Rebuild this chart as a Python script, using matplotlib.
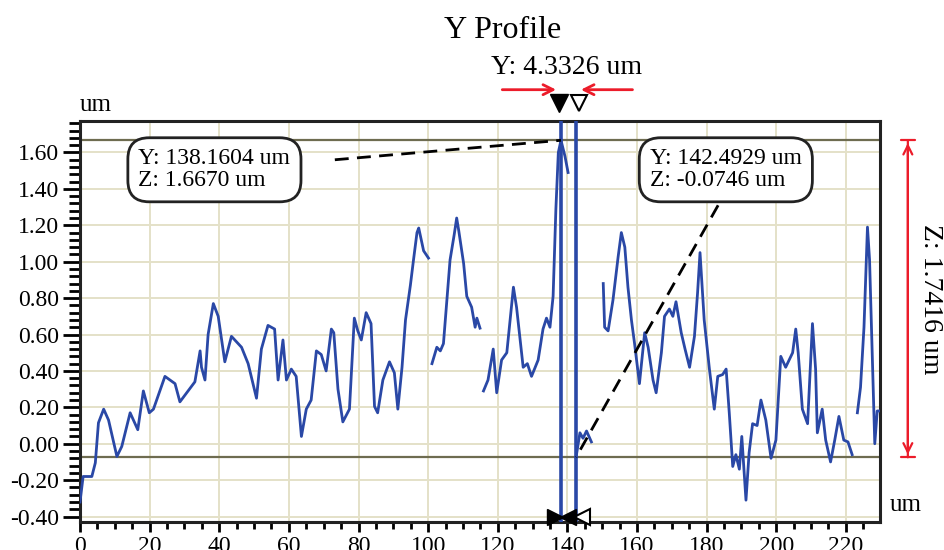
#!/usr/bin/env python3
"""
Y Profile surface scan with two cursors (recreated).
"""

import numpy as np
import matplotlib
matplotlib.use("Agg")
import matplotlib.pyplot as plt
from matplotlib.ticker import MultipleLocator

plt.rcParams['font.family'] = ['Liberation Serif', 'DejaVu Serif']

# profile segments (Y position in um, Z height in um); NaN marks gaps
seg1_y = [0, 0.9, 3.4, 4.4, 5.3, 6.8, 8.2, 10.6, 12, 14.4, 16.6, 18.2, 19.9, 21.1, 24.4, 27.3,
          28.7, 33, 34.5, 34.9, 35.9, 36.8, 38.3, 39.7, 41.6, 43.5, 46.4, 48.3, 50.7, 52.1, 54,
          55.9, 56.9, 58.3, 59.3, 60.7, 62.1, 63.6, 65, 66.4, 67.9, 69.3, 70.7, 72.2, 72.9, 74.1,
          75.5, 77.4, 78.8, 79.8, 80.8, 82.2, 83.6, 84.6, 85.5, 87, 88.9, 90.3, 91.3, 92.5, 93.5,
          94.9, 95.8, 96.8, 97.3, 98.7, 100.1]
seg1_z = [-0.32, -0.18, -0.18, -0.105, 0.115, 0.19, 0.13, -0.07, -0.015, 0.17, 0.077, 0.29, 0.17,
          0.19, 0.37, 0.33, 0.23, 0.34, 0.51, 0.42, 0.35, 0.60, 0.77, 0.70, 0.45, 0.59, 0.53, 0.44,
          0.25, 0.52, 0.65, 0.63, 0.35, 0.57, 0.35, 0.41, 0.37, 0.04, 0.19, 0.24, 0.51, 0.49, 0.40,
          0.63, 0.61, 0.30, 0.12, 0.19, 0.69, 0.62, 0.57, 0.72, 0.66, 0.205, 0.17, 0.35, 0.45,
          0.39, 0.19, 0.42, 0.68, 0.87, 1.01, 1.16, 1.185, 1.06, 1.02]

seg2_y = [101.1, 102.5, 103.5, 104.4, 105.4, 106.3, 107.5, 108.2, 108.8, 110.2, 111.1, 112.5,
          113.5, 114, 114.9]
seg2_z = [0.44, 0.53, 0.51, 0.55, 0.79, 1.01, 1.15, 1.24, 1.17, 0.99, 0.81, 0.75, 0.64, 0.69, 0.635]

seg3_y = [115.9, 117.2, 118.7, 119.7, 121.1, 122.6, 124.5, 125.4, 127.3, 128.5, 129.7, 131.6,
          133, 134, 135, 135.9, 136.7, 137.4, 138.16, 139.3, 140.2]
seg3_z = [0.29, 0.35, 0.52, 0.28, 0.46, 0.50, 0.86, 0.75, 0.42, 0.44, 0.37, 0.46, 0.63, 0.69,
          0.64, 0.81, 1.29, 1.60, 1.667, 1.58, 1.49]

seg4_y = [142.49, 143.6, 144.5, 145.5, 146.9]
seg4_z = [-0.0746, 0.06, 0.03, 0.07, 0.01]

seg5_y = [150.3, 150.7, 151.7, 153.1, 154.6, 155.5, 156.5, 157.4, 158.4, 159.3, 160.7, 162.2,
          163.2, 164.6, 165.5, 167, 167.9, 169.3, 170.3, 171.2, 172.7, 173.8, 175.1, 176.5, 177.4,
          178.1, 179.3, 180.8, 182.2, 183.2, 184.6, 185.6, 186.5, 187.5, 188.4, 189.4, 190.1,
          191.3, 192.2, 193.2, 194.5, 195.6, 197, 198.5, 199.9, 201.3, 202.7, 204.7, 205.6, 206.3,
          207.5, 209, 210.4, 211.3, 211.8, 213.2, 214.2, 215.6, 216.8, 218, 219.4, 220.6, 221.8]
seg5_z = [0.88, 0.64, 0.62, 0.79, 1.03, 1.16, 1.08, 0.86, 0.68, 0.55, 0.33, 0.61, 0.53, 0.35,
          0.28, 0.50, 0.70, 0.74, 0.70, 0.78, 0.61, 0.52, 0.42, 0.59, 0.83, 1.05, 0.68, 0.41, 0.19,
          0.37, 0.38, 0.41, 0.17, -0.125, -0.06, -0.14, 0.04, -0.31, -0.05, 0.11, 0.10, 0.24,
          0.13, -0.08, 0.02, 0.48, 0.42, 0.50, 0.63, 0.50, 0.19, 0.11, 0.66, 0.41, 0.06, 0.19,
          0.02, -0.10, 0.02, 0.15, 0.02, 0.01, -0.06]

seg6_y = [223.3, 224.2, 225.2, 226.2, 226.8, 227.6, 228.3, 229, 230]
seg6_z = [0.17, 0.31, 0.64, 1.19, 1.01, 0.46, 0.00, 0.18, 0.18]

# cursors
cursor1 = (138.1604, 1.6670)
cursor2 = (142.4929, -0.0746)
delta_y = 4.3326
delta_z = 1.7416

x_ticks = list(range(0, 221, 20))
y_ticks = [-0.40, -0.20, 0.00, 0.20, 0.40, 0.60, 0.80, 1.00, 1.20, 1.40, 1.60]

BLUE = '#2a48a6'
RED = '#ec1c2a'
OLIVE = '#6e6c50'
GRID = '#e4e1c8'

# join segments with gaps
ys, zs = [], []
for sy, sz in [(seg1_y, seg1_z), (seg2_y, seg2_z), (seg3_y, seg3_z),
               (seg4_y, seg4_z), (seg5_y, seg5_z), (seg6_y, seg6_z)]:
    ys += list(sy) + [np.nan]
    zs += list(sz) + [np.nan]

fig = plt.figure(figsize=(9.45, 5.5), dpi=100)
ax = fig.add_axes([80 / 945, 28 / 550, 800 / 945, 401 / 550])

ax.set_xlim(0, 229.8)
ax.set_ylim(-0.43, 1.773)

# grid
for gx in x_ticks:
    ax.axvline(gx, color=GRID, lw=1.4, zorder=0)
for gy in y_ticks:
    ax.axhline(gy, color=GRID, lw=1.4, zorder=0)

# reference lines at cursor heights
ax.axhline(cursor1[1], color=OLIVE, lw=1.6, zorder=1)
ax.axhline(cursor2[1], color=OLIVE, lw=1.6, zorder=1)

# profile
ax.plot(ys, zs, color=BLUE, lw=2.0, zorder=3)

# cursor lines
ax.axvline(cursor1[0], color=BLUE, lw=2.6, zorder=4)
ax.axvline(cursor2[0], color=BLUE, lw=2.6, zorder=4)

# cursor markers top / bottom
top_y = 1.87
ax.plot(cursor2[0] + 0.9, top_y, marker='v', ms=12, mfc='white', mec='black', mew=1.5,
        clip_on=False, zorder=6)
ax.plot(cursor1[0] - 0.5, top_y, marker='v', ms=13, mfc='black', mec='black',
        clip_on=False, zorder=7)
bot_y = -0.40
ax.plot(cursor2[0] + 1.8, bot_y, marker='<', ms=11, mfc='white', mec='black', mew=1.5,
        clip_on=False, zorder=6)
ax.plot(cursor1[0] + 1.9, bot_y, marker='<', ms=11, mfc='black', mec='black',
        clip_on=False, zorder=7)
ax.plot(cursor1[0] - 1.8, bot_y, marker='>', ms=11, mfc='black', mec='black',
        clip_on=False, zorder=7)

# value boxes
box = dict(boxstyle='round,pad=0.45,rounding_size=0.9', fc='white', ec='#222222', lw=2)
ax.text(16.8, 1.505, f'Y: {cursor1[0]:.4f} um\nZ: {cursor1[1]:.4f} um', fontsize=17,
        ha='left', va='center', bbox=box, zorder=8, linespacing=1.05)
ax.text(163.7, 1.505, f'Y: {cursor2[0]:.4f} um\nZ: {cursor2[1]:.4f} um', fontsize=17,
        ha='left', va='center', bbox=box, zorder=8, linespacing=1.05)

# dashed leaders
ax.plot([73.2, cursor1[0]], [1.56, cursor1[1]], color='black', lw=2, ls=(0, (5, 3)), zorder=5)
ax.plot([183.3, cursor2[0]], [1.31, cursor2[1]], color='black', lw=2, ls=(0, (5, 3)), zorder=5)

# red Y distance arrows
arr_y = 1.945
ax.annotate('', xy=(cursor1[0] - 0.6, arr_y), xytext=(120.5, arr_y),
            arrowprops=dict(arrowstyle='->', color=RED, lw=2, mutation_scale=18),
            annotation_clip=False)
ax.annotate('', xy=(cursor2[0] + 0.6, arr_y), xytext=(159.5, arr_y),
            arrowprops=dict(arrowstyle='->', color=RED, lw=2, mutation_scale=18),
            annotation_clip=False)
fig.text(567 / 945, 1 - 67 / 550, f'Y: {delta_y:.4f} um', fontsize=20, ha='center', va='center')

# red Z distance on the right
zx = 237.8
ax.annotate('', xy=(zx, cursor2[1]), xytext=(zx, cursor1[1]),
            arrowprops=dict(arrowstyle='<->', color=RED, lw=1.6, mutation_scale=16),
            annotation_clip=False)
ax.annotate('', xy=(zx, cursor2[1]), xytext=(zx, cursor1[1]),
            arrowprops=dict(arrowstyle='|-|,widthA=0.5,widthB=0.5', color=RED, lw=1.6,
                            shrinkA=0, shrinkB=0),
            annotation_clip=False)
ax.text(244.3, (cursor1[1] + cursor2[1]) / 2, f'Z: {delta_z:.4f} um', fontsize=20,
        rotation=270, ha='center', va='center', clip_on=False)

# axes cosmetics
ax.xaxis.set_minor_locator(MultipleLocator(5))
ax.yaxis.set_minor_locator(MultipleLocator(0.04))
ax.set_yticks(y_ticks)
ax.set_yticklabels([f'{v:.2f}' for v in y_ticks])
ax.set_xticks(x_ticks)
ax.tick_params(axis='both', which='major', labelsize=17, direction='out', width=2, colors='black')
ax.tick_params(axis='y', which='major', length=12, pad=3)
ax.tick_params(axis='y', which='minor', length=8, width=2, direction='out')
ax.tick_params(axis='x', which='major', length=7, pad=3)
ax.tick_params(axis='x', which='minor', length=5, width=2, direction='out')
for sp in ax.spines.values():
    sp.set_linewidth(2.2)
    sp.set_color('#222222')

ax.text(0.0, 1.012, 'um', transform=ax.transAxes, fontsize=18, ha='left', va='bottom')
ax.text(1.012, 0.015, 'um', transform=ax.transAxes, fontsize=18, ha='left', va='bottom')

fig.text(503 / 945, 1 - 30 / 550, 'Y Profile', fontsize=23, ha='center', va='center')

fig.savefig('out.png', dpi=100)
